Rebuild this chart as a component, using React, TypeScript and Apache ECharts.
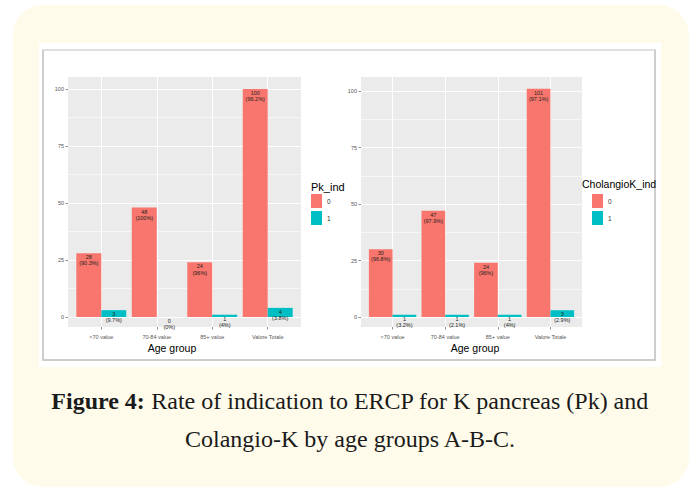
import React, { useEffect, useRef } from "react";
import * as echarts from "echarts";

const categories = ["<70 value", "70-84 value", "85+ value", "Valore Totale"];
const legendNames = ["0", "1"];

const pkCounts0 = [28, 48, 24, 100];
const pkPct0 = [90.3, 100, 96, 96.2];
const pkCounts1 = [3, 0, 1, 4];
const pkPct1 = [9.7, 0, 4, 3.8];

const chCounts0 = [30, 47, 24, 101];
const chPct0 = [96.8, 97.9, 96, 97.1];
const chCounts1 = [1, 1, 1, 3];
const chPct1 = [3.2, 2.1, 4, 2.9];

const yMin = 0;
const yMax = 100;
const yInterval = 25;

const RED = "#F8766D";
const TEAL = "#00BFC4";
const SANS = "Liberation Sans, Arial, sans-serif";
const SERIF = "Liberation Serif, Times New Roman, serif";

type Geom = { left: number; width: number; top: number; height: number; zeroY: number; hundredY: number };

function buildPanel(idx: number, g: Geom, c0: number[], p0: number[], c1: number[], p1: number[]) {
  const base = idx * 4;
  const unit = g.width / 4.2;
  const grids: any[] = [
    { left: g.left, top: g.top, width: g.width, height: g.height, show: true, backgroundColor: "#EBEBEB", borderWidth: 0, z: -1, outerBoundsMode: "none" },
    { left: g.left, top: g.hundredY, width: g.width, height: g.zeroY - g.hundredY, outerBoundsMode: "none" },
    { left: g.left + 0.6 * unit, top: g.top, width: 3 * unit, height: g.height, outerBoundsMode: "none" },
    { left: g.left + 0.1 * unit, top: g.hundredY, width: 4 * unit, height: g.zeroY - g.hundredY, outerBoundsMode: "none" },
  ];
  const hidden = { show: false };
  const xAxes: any[] = [
    { type: "value", gridIndex: base, min: 0, max: 1, ...hidden },
    { type: "value", gridIndex: base + 1, min: 0, max: 1, ...hidden },
    {
      type: "category",
      gridIndex: base + 2,
      data: categories,
      boundaryGap: false,
      axisLine: { show: false },
      axisTick: { show: true, length: 2.5, interval: 0, lineStyle: { color: "#444", width: 0.6 } },
      axisLabel: { interval: 0, fontSize: 5.5, color: "#555", margin: 6.5, fontFamily: SANS },
      splitLine: { show: true, interval: 0, lineStyle: { color: "#ffffff", width: 1.1 } },
    },
    { type: "category", gridIndex: base + 3, data: categories, boundaryGap: true, ...hidden },
  ];
  const yAxes: any[] = [
    { type: "value", gridIndex: base, min: 0, max: 1, ...hidden },
    {
      type: "value",
      gridIndex: base + 1,
      min: yMin,
      max: yMax,
      interval: yInterval,
      axisLine: { show: false },
      axisTick: { show: true, length: 2.5, lineStyle: { color: "#444", width: 0.6 } },
      axisLabel: { fontSize: 5.5, color: "#555", margin: 4, fontFamily: SANS },
      splitLine: { show: true, lineStyle: { color: "#ffffff", width: 1.1 } },
      minorTick: { show: false, splitNumber: 2 },
      minorSplitLine: { show: true, lineStyle: { color: "#ffffff", width: 0.55 } },
    },
    { type: "value", gridIndex: base + 2, min: 0, max: 1, ...hidden },
    { type: "value", gridIndex: base + 3, min: yMin, max: yMax, ...hidden },
  ];
  const mkLabel = (counts: number[], pct: number[]) => ({
    show: true,
    position: "insideTop",
    distance: 0.8,
    fontSize: 5.5,
    lineHeight: 6.3,
    color: "#222",
    fontFamily: SANS,
    formatter: (p: any) => `${counts[p.dataIndex]}\n(${pct[p.dataIndex]}%)`,
  });
  const series: any[] = [
    {
      type: "bar",
      name: legendNames[0],
      xAxisIndex: base + 3,
      yAxisIndex: base + 3,
      data: c0,
      barGap: "0%",
      barCategoryGap: "10%",
      clip: false,
      itemStyle: { color: RED },
      label: mkLabel(c0, p0),
    },
    {
      type: "bar",
      name: legendNames[1],
      xAxisIndex: base + 3,
      yAxisIndex: base + 3,
      data: c1,
      barGap: "0%",
      barCategoryGap: "10%",
      clip: false,
      itemStyle: { color: TEAL },
      label: mkLabel(c1, p1),
    },
  ];
  return { grids, xAxes, yAxes, series };
}

export default function App() {
  const ref = useRef<HTMLDivElement>(null);
  useEffect(() => {
    if (!ref.current) return;
    const chart = echarts.init(ref.current, null, { renderer: "svg" });
    const left = buildPanel(0, { left: 68, width: 233, top: 77, height: 250, zeroY: 317, hundredY: 89 }, pkCounts0, pkPct0, pkCounts1, pkPct1);
    const right = buildPanel(1, { left: 361, width: 221, top: 77, height: 250, zeroY: 317, hundredY: 91 }, chCounts0, chPct0, chCounts1, chPct1);

    const legendCommon = {
      orient: "vertical",
      data: legendNames,
      icon: "rect",
      itemWidth: 11,
      itemHeight: 14,
      itemGap: 3,
      padding: 0,
      selectedMode: false,
      textStyle: { fontSize: 6.5, color: "#333", fontFamily: SANS },
    };

    chart.setOption({
      animation: false,
      backgroundColor: "#ffffff",
      textStyle: { fontFamily: SANS },
      grid: [...left.grids, ...right.grids],
      xAxis: [...left.xAxes, ...right.xAxes],
      yAxis: [...left.yAxes, ...right.yAxes],
      series: [...left.series, ...right.series],
      legend: [
        { ...legendCommon, left: 311, top: 194 },
        { ...legendCommon, left: 592, top: 194 },
      ],
      graphic: [
        { type: "rect", z: -10, shape: { x: 13, y: 5, width: 676, height: 482, r: 30 }, style: { fill: "#FFFBEA" }, silent: true },
        { type: "rect", z: -9, shape: { x: 39, y: 43, width: 622, height: 324 }, style: { fill: "#ffffff" }, silent: true },
        { type: "rect", z: -8, shape: { x: 43, y: 50, width: 612, height: 310 }, style: { fill: "#ffffff", stroke: "#bdbdbd", lineWidth: 1.5 }, silent: true },
        { type: "line", z: -7, shape: { x1: 43, y1: 50, x2: 655, y2: 50 }, style: { stroke: "#e6e6e6", lineWidth: 1.5 }, silent: true },
        { type: "text", x: 311, y: 187, style: { text: "Pk_ind", fontSize: 11, fontFamily: SANS, fill: "#000", textAlign: "left", textVerticalAlign: "middle" } },
        { type: "text", x: 582, y: 184, style: { text: "CholangioK_ind", fontSize: 10.5, fontFamily: SANS, fill: "#000", textAlign: "left", textVerticalAlign: "middle" } },
        { type: "text", x: 172, y: 348, style: { text: "Age group", fontSize: 10.5, fontFamily: SANS, fill: "#000", textAlign: "center", textVerticalAlign: "middle" } },
        { type: "text", x: 475, y: 348, style: { text: "Age group", fontSize: 10.5, fontFamily: SANS, fill: "#000", textAlign: "center", textVerticalAlign: "middle" } },
        {
          type: "text",
          x: 350,
          y: 401,
          style: {
            text: "{b|Figure 4:} Rate of indication to ERCP for K pancreas (Pk) and",
            rich: { b: { fontWeight: "bold", fontSize: 24, fontFamily: SERIF, fill: "#1a1a1a" } },
            fontSize: 24,
            fontFamily: SERIF,
            fill: "#1a1a1a",
            textAlign: "center",
            textVerticalAlign: "middle",
          },
        },
        {
          type: "text",
          x: 350,
          y: 439,
          style: {
            text: "Colangio-K by age groups A-B-C.",
            fontSize: 24,
            fontFamily: SERIF,
            fill: "#1a1a1a",
            textAlign: "center",
            textVerticalAlign: "middle",
          },
        },
      ],
    });
    return () => chart.dispose();
  }, []);
  return <div ref={ref} style={{ position: "fixed", left: 0, top: 0, width: 689, height: 492 }} />;
}
